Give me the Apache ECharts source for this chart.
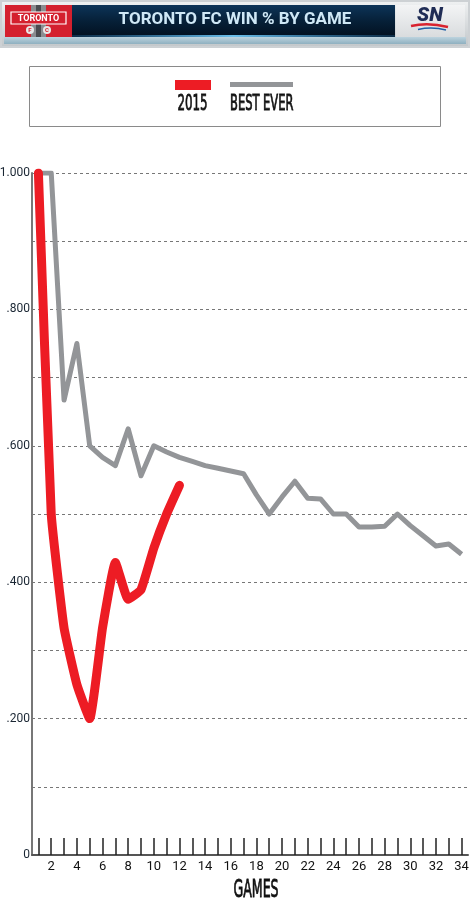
<!DOCTYPE html>
<html>
<head>
<meta charset="utf-8">
<script src="https://cdn.jsdelivr.net/npm/echarts@6/dist/echarts.min.js"></script>
<style>
  html, body { margin: 0; padding: 0; background: #fff; }
  #chart { width: 470px; height: 910px; }
</style>
</head>
<body>
<div id="chart"></div>
<script>
  // games played
  var games = ['1','2','3','4','5','6','7','8','9','10','11','12','13','14','15','16','17',
    '18','19','20','21','22','23','24','25','26','27','28','29','30','31','32','33','34']
  // win % 2015 season (12 games so far)
  var season2015 = [1.000, 0.500, 0.333, 0.250, 0.200, 0.333, 0.429, 0.375, 0.389, 0.450, 0.500, 0.542]
  // best ever season
  var bestEver = [1.000, 1.000, 0.667, 0.750, 0.600, 0.583, 0.571, 0.625, 0.556, 0.600, 0.591, 0.583,
    0.577, 0.571, 0.567, 0.563, 0.559, 0.528, 0.500, 0.525, 0.548, 0.523, 0.522, 0.500, 0.500,
    0.481, 0.481, 0.482, 0.500, 0.483, 0.468, 0.453, 0.456, 0.441]
  var yTickLabels = ['0', '.200', '.400', '.600', '.800', '1.000']

  var chart = echarts.init(document.getElementById('chart'))
  var condensed = "'DejaVu Sans Condensed', 'Liberation Sans Narrow', sans-serif"

  var option = {
    animation: false,
    backgroundColor: '#fff',
    grid: { left: 32, right: 2, top: 173, bottom: 55, containLabel: false, outerBoundsMode: 'none' },
    xAxis: {
      type: 'category',
      data: games,
      boundaryGap: true,
      axisLine: { lineStyle: { color: '#555', width: 2 } },
      axisTick: {
        show: true,
        inside: true,
        length: 17,
        interval: 0,
        alignWithLabel: true,
        lineStyle: { color: '#222', width: 1.5 }
      },
      axisLabel: {
        interval: function(index) { return index % 2 === 1 },
        color: '#111',
        fontFamily: 'Roboto',
        fontSize: 13,
        margin: 5
      },
      splitLine: { show: false }
    },
    yAxis: {
      type: 'value',
      min: 0,
      max: 1,
      interval: 0.1,
      axisLine: { show: true, lineStyle: { color: '#777', width: 2 } },
      axisTick: { show: false },
      axisLabel: {
        color: '#1a2633',
        fontFamily: 'Roboto',
        fontSize: 12,
        margin: 2,
        formatter: function(v) {
          var k = Math.round(v * 10)
          return k % 2 === 0 ? yTickLabels[k / 2] : ''
        }
      },
      splitLine: { show: true, lineStyle: { color: '#777', width: 1, type: [3, 3] } }
    },
    series: [
      {
        name: 'BEST EVER',
        type: 'line',
        data: bestEver,
        symbol: 'none',
        lineStyle: { color: '#939598', width: 5, join: 'round' }
      },
      {
        name: '2015',
        type: 'line',
        data: season2015,
        symbol: 'none',
        smooth: 0.12,
        lineStyle: { color: '#ed1c24', width: 9, cap: 'round', join: 'round' }
      }
    ],
    graphic: [
      // header frame
      { type: 'rect', shape: { x: 0, y: 0, width: 470, height: 48 }, style: { fill: '#cdd1d4' } },
      { type: 'rect', shape: { x: 2, y: 2, width: 466, height: 44 },
        style: { fill: new echarts.graphic.LinearGradient(0, 0, 0, 1, [
          { offset: 0, color: '#eef0f1' }, { offset: 1, color: '#c3c8cb' }]) } },
      { type: 'rect', shape: { x: 4, y: 37, width: 462, height: 7 },
        style: { fill: new echarts.graphic.LinearGradient(0, 0, 0, 1, [
          { offset: 0, color: '#bcd3de' }, { offset: 1, color: '#8fb0c0' }]) } },
      { type: 'rect', shape: { x: 72, y: 5, width: 323, height: 32 },
        style: { fill: new echarts.graphic.LinearGradient(0, 0, 0, 1, [
          { offset: 0, color: '#0d3458' }, { offset: 0.5, color: '#062038' }, { offset: 1, color: '#02101f' }]) } },
      { type: 'rect', shape: { x: 72, y: 35, width: 323, height: 2 },
        style: { fill: new echarts.graphic.LinearGradient(0, 0, 1, 0, [
          { offset: 0, color: 'rgba(60,160,230,0.2)' }, { offset: 0.5, color: 'rgba(120,210,255,0.9)' },
          { offset: 1, color: 'rgba(60,160,230,0.2)' }]) } },
      { type: 'text', x: 235, y: 20,
        style: { text: 'TORONTO FC WIN % BY GAME', fill: '#cfe8f6', font: 'bold 17px Roboto',
          textAlign: 'center', textVerticalAlign: 'middle' } },
      // club crest
      { type: 'rect', shape: { x: 5, y: 5, width: 67, height: 32 }, style: { fill: '#d4202e' } },
      { type: 'rect', shape: { x: 31, y: 5, width: 15, height: 32 }, style: { fill: '#8a8c90' } },
      { type: 'rect', shape: { x: 36, y: 5, width: 5, height: 32 }, style: { fill: '#4a4c50' } },
      { type: 'rect', shape: { x: 11, y: 12, width: 55, height: 12 },
        style: { fill: '#d4202e', stroke: '#fff', lineWidth: 1.2 } },
      { type: 'text', x: 38.5, y: 18.5,
        style: { text: 'TORONTO', fill: '#fff', font: 'bold 9px Roboto', textAlign: 'center', textVerticalAlign: 'middle' } },
      { type: 'circle', shape: { cx: 30, cy: 30, r: 4 }, style: { fill: '#e8e8e8' } },
      { type: 'circle', shape: { cx: 47, cy: 30, r: 4 }, style: { fill: '#e8e8e8' } },
      { type: 'text', x: 30, y: 30,
        style: { text: 'F', fill: '#d4202e', font: 'bold 6px Roboto', textAlign: 'center', textVerticalAlign: 'middle' } },
      { type: 'text', x: 47, y: 30,
        style: { text: 'C', fill: '#d4202e', font: 'bold 6px Roboto', textAlign: 'center', textVerticalAlign: 'middle' } },
      // network logo
      { type: 'rect', shape: { x: 396, y: 5, width: 69, height: 32 },
        style: { fill: new echarts.graphic.LinearGradient(0, 0, 0, 1, [
          { offset: 0, color: '#f3f4f5' }, { offset: 1, color: '#d9dcde' }]) } },
      { type: 'text', x: 430, y: 16,
        style: { text: 'SN', fill: '#1f2c55', font: 'italic 900 20px Roboto', textAlign: 'center', textVerticalAlign: 'middle' } },
      { type: 'bezierCurve', shape: { x1: 411, y1: 26, x2: 448, y2: 27, cpx1: 428, cpy1: 22 },
        style: { stroke: '#d8232f', lineWidth: 2.5, fill: null } },
      { type: 'bezierCurve', shape: { x1: 418, y1: 29.5, x2: 446, y2: 30, cpx1: 432, cpy1: 26.5 },
        style: { stroke: '#1f5fa6', lineWidth: 1.5, fill: null } },
      // legend
      { type: 'rect', shape: { x: 29.5, y: 66.5, width: 411, height: 60 },
        style: { fill: '#fff', stroke: '#8a8a8a', lineWidth: 1 } },
      { type: 'rect', shape: { x: 175, y: 80, width: 36, height: 10 }, style: { fill: '#ed1c24' } },
      { type: 'rect', shape: { x: 230, y: 82, width: 63, height: 5 }, style: { fill: '#939598' } },
      { type: 'text', x: 192.5, y: 104, scaleX: 0.6,
        style: { text: '2015', fill: '#111', stroke: '#111', lineWidth: 0.8,
          font: '22px ' + condensed, textAlign: 'center', textVerticalAlign: 'middle' } },
      { type: 'text', x: 230, y: 104, scaleX: 0.58,
        style: { text: 'BEST EVER', fill: '#111', stroke: '#111', lineWidth: 0.8,
          font: '22px ' + condensed, textAlign: 'left', textVerticalAlign: 'middle' } },
      // x axis title
      { type: 'text', x: 256, y: 890, scaleX: 0.56,
        style: { text: 'GAMES', fill: '#111', stroke: '#111', lineWidth: 0.8,
          font: '25px ' + condensed, textAlign: 'center', textVerticalAlign: 'middle' } }
    ]
  }

  chart.setOption(option, true)
</script>
</body>
</html>
